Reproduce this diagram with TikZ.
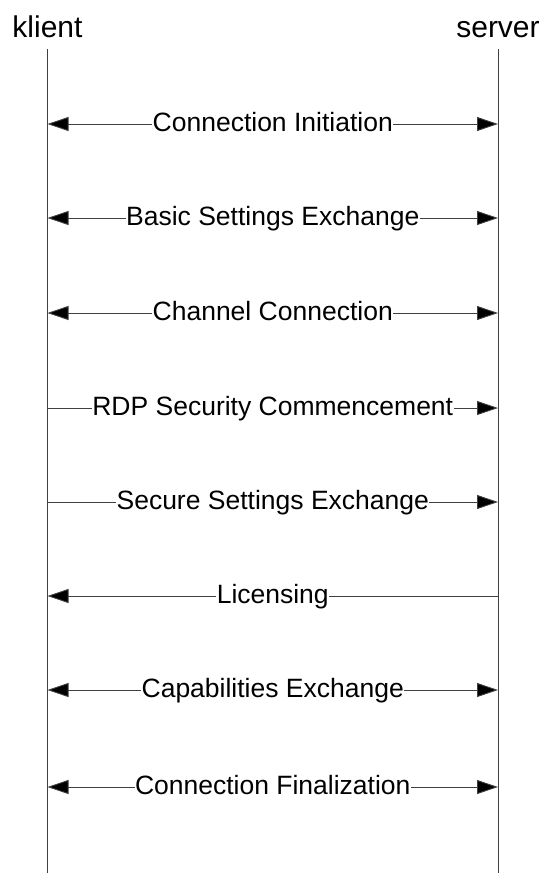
\documentclass[tikz,border=0pt]{standalone}
\usepackage{fontspec}
\setmainfont{Liberation Sans}
\usetikzlibrary{arrows.meta}
\begin{document}
\begin{tikzpicture}[x=1pt,y=1pt,
  lifeline/.style={line width=0.9pt, draw=black!75},
  msg/.style={line width=0.9pt, draw=black!75, arrows={-Triangle[length=21pt,width=14pt,fill=black]}},
  biMsg/.style={line width=0.9pt, draw=black!75, arrows={Triangle[length=21pt,width=14pt,fill=black]-Triangle[length=21pt,width=14pt,fill=black]}},
  lbl/.style={fill=white, inner xsep=0.5pt, inner ysep=1pt, anchor=base, yshift=-7.8pt, font=\fontsize{26.5}{30}\selectfont},
  head/.style={anchor=base, inner sep=0pt, font=\fontsize{30}{34}\selectfont}]
\useasboundingbox (0,0) rectangle (546,-873);
\node[head] (klient) at (47.5,-37.5) {klient};
\node[head] (server) at (498,-37.5) {server};
\coordinate (kTop) at (47.5,-49);
\coordinate (sTop) at (498,-49);
\coordinate (kBot) at (47.5,-873);
\coordinate (sBot) at (498,-873);
\draw[lifeline] (kTop) -- (kBot);
\draw[lifeline] (sTop) -- (sBot);
\foreach \i/\y in {1/124,2/218,3/313,4/408,5/502,6/596,7/690,8/787}{
  \coordinate (k\i) at (47.5,-\y);
  \coordinate (s\i) at (498,-\y);
}
\draw[biMsg] (k1) -- (s1) node[lbl, midway] (m1) {Connection Initiation};
\draw[biMsg] (k2) -- (s2) node[lbl, midway] (m2) {Basic Settings Exchange};
\draw[biMsg] (k3) -- (s3) node[lbl, midway] (m3) {Channel Connection};
\draw[msg] (k4) -- (s4) node[lbl, midway] (m4) {RDP Security Commencement};
\draw[msg] (k5) -- (s5) node[lbl, midway] (m5) {Secure Settings Exchange};
\draw[msg] (s6) -- (k6) node[lbl, midway] (m6) {Licensing};
\draw[biMsg] (k7) -- (s7) node[lbl, midway] (m7) {Capabilities Exchange};
\draw[biMsg] (k8) -- (s8) node[lbl, midway] (m8) {Connection Finalization};
\end{tikzpicture}
\end{document}
